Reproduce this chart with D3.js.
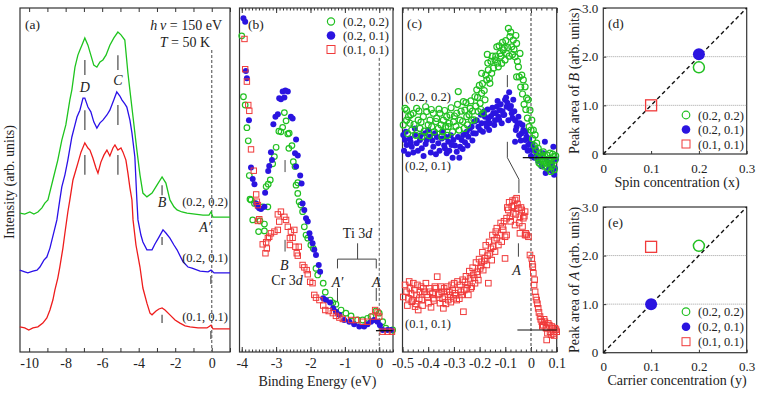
<!doctype html>
<html>
<head>
<meta charset="utf-8">
<title>Spectra panels</title>
<script src="https://d3js.org/d3.v7.min.js"></script>
<style>
  body { margin:0; background:#fff; }
</style>
</head>
<body>
<svg width="763" height="399" style="font-family:'Liberation Serif','Times New Roman',serif"></svg>
<script>
// ---------------- data ----------------
const samples = ["(0.2, 0.2)", "(0.2, 0.1)", "(0.1, 0.1)"];
const lineColors = ["#1ec41e", "#2a10e8", "#ee1c1c"];
const markColors = ["#22c022", "#2a14e0", "#f03a3a"];

// (a) valence band spectra: [binding energy (eV), intensity (arb.)]
const specA22 = [[-10.51,40.4],[-10.24,40.1],[-9.96,40.7],[-9.74,40.1],[-9.52,40.7],[-9.30,41.9],[-9.14,43.3],[-8.97,44.2],[-8.70,50.0],[-8.43,55.8],[-8.21,61.6],[-7.99,66.0],[-7.77,73.3],[-7.66,76.2],[-7.49,82.8],[-7.33,86.3],[-7.22,87.8],[-7.11,89.2],[-6.95,91.3],[-6.78,89.2],[-6.62,86.3],[-6.46,83.4],[-6.29,82.8],[-6.12,84.3],[-5.96,84.9],[-5.79,86.3],[-5.58,89.2],[-5.36,91.3],[-5.14,93.0],[-4.97,92.2],[-4.76,90.7],[-4.59,81.1],[-4.42,73.3],[-4.31,68.3],[-4.10,58.7],[-3.93,51.5],[-3.77,46.2],[-3.55,45.1],[-3.27,46.2],[-3.00,48.5],[-2.72,50.9],[-2.51,49.1],[-2.29,44.2],[-2.07,42.2],[-1.90,41.3],[-1.63,40.7],[-1.35,40.4],[-0.92,40.1],[-0.48,39.8],[-0.15,39.8],[-0.04,40.7],[0.07,39.2],[0.46,39.2],[1.00,39.2]];
const specA21 = [[-10.51,23.8],[-10.24,23.3],[-10.07,23.0],[-9.79,23.5],[-9.57,23.8],[-9.41,24.7],[-9.19,26.7],[-9.03,27.6],[-8.86,30.2],[-8.75,32.6],[-8.59,36.0],[-8.48,38.4],[-8.32,44.2],[-8.21,48.0],[-8.04,51.5],[-7.88,55.8],[-7.66,62.5],[-7.49,66.0],[-7.38,68.3],[-7.22,70.3],[-7.05,73.8],[-6.95,73.8],[-6.78,71.2],[-6.62,69.8],[-6.46,66.9],[-6.29,65.1],[-6.12,66.6],[-5.96,67.4],[-5.74,68.9],[-5.58,70.3],[-5.36,73.3],[-5.20,75.6],[-5.03,74.4],[-4.92,73.3],[-4.76,72.1],[-4.65,71.2],[-4.48,67.4],[-4.37,63.7],[-4.21,56.7],[-4.10,44.2],[-4.04,38.4],[-3.88,34.0],[-3.77,32.0],[-3.55,29.7],[-3.27,29.7],[-3.11,31.4],[-2.89,33.4],[-2.67,35.5],[-2.51,34.6],[-2.29,33.1],[-2.07,31.1],[-1.90,29.7],[-1.57,26.2],[-1.30,24.7],[-1.08,24.4],[-0.64,23.5],[-0.20,23.3],[-0.04,23.8],[0.13,23.0],[0.56,23.0],[1.00,23.0]];
const specA11 = [[-10.51,7.3],[-10.24,7.0],[-10.02,6.4],[-9.79,7.0],[-9.52,7.3],[-9.25,8.4],[-9.03,9.9],[-8.86,12.2],[-8.70,15.1],[-8.59,18.0],[-8.43,21.5],[-8.32,24.7],[-8.15,30.2],[-8.04,34.6],[-7.88,40.7],[-7.77,44.2],[-7.60,50.0],[-7.44,52.9],[-7.33,54.9],[-7.16,58.1],[-6.95,60.8],[-6.78,59.3],[-6.67,58.7],[-6.51,56.4],[-6.34,53.5],[-6.23,52.0],[-6.07,55.2],[-5.90,57.3],[-5.74,58.7],[-5.58,57.0],[-5.41,59.3],[-5.30,60.2],[-5.14,58.7],[-4.97,59.3],[-4.86,58.1],[-4.70,55.8],[-4.59,52.0],[-4.48,47.7],[-4.37,44.2],[-4.31,38.4],[-4.15,31.1],[-3.93,24.7],[-3.77,18.6],[-3.55,14.2],[-3.38,11.3],[-3.27,10.8],[-3.05,11.9],[-2.89,12.5],[-2.72,12.8],[-2.56,12.2],[-2.29,10.8],[-2.01,9.3],[-1.74,8.4],[-1.46,7.6],[-1.19,7.3],[-0.75,7.0],[-0.26,7.0],[-0.04,7.8],[0.07,6.7],[0.56,6.7],[1.00,6.7]];

// (b) Cr 3d / Ti 3d region
const specB22 = [[-4.00,91.9],[-3.95,74.2],[-3.90,71.8],[-3.85,65.2],[-3.81,61.4],[-3.78,51.3],[-3.76,44.4],[-3.73,44.2],[-3.63,43.2],[-3.68,38.4],[-3.47,38.1],[-3.34,37.2],[-3.51,35.0],[-3.34,35.2],[-3.39,42.2],[-3.24,42.2],[-3.29,48.1],[-3.23,48.8],[-3.17,50.0],[-3.10,54.7],[-3.05,56.8],[-3.00,59.5],[-2.92,64.2],[-2.86,64.0],[-2.81,65.3],[-2.76,69.6],[-2.71,67.2],[-2.66,63.4],[-2.62,63.6],[-2.63,59.2],[-2.54,60.0],[-2.50,55.3],[-2.45,53.9],[-2.37,49.2],[-2.42,48.5],[-2.37,46.1],[-2.33,43.7],[-2.28,42.7],[-2.23,40.8],[-2.18,36.4],[-2.13,34.0],[-2.08,33.1],[-1.99,31.1],[-1.92,30.1],[-1.84,24.3],[-1.79,22.4],[-1.63,20.0],[-1.57,17.4],[-1.43,15.1],[-1.35,14.3],[-1.26,13.9],[-1.11,12.2],[-0.97,11.3],[-0.82,10.5],[-0.63,9.3],[-0.48,9.3],[-0.34,9.8],[-0.24,10.3],[-0.10,11.9],[0.00,11.3],[0.10,8.8],[0.19,6.9],[0.39,6.4]];
const specB21 = [[-3.95,97.0],[-3.90,96.0],[-3.88,81.7],[-3.85,79.6],[-3.79,67.4],[-3.73,53.6],[-3.68,50.3],[-3.63,48.8],[-3.58,43.2],[-3.53,42.2],[-3.49,41.8],[-3.44,41.6],[-3.34,42.2],[-3.32,46.3],[-3.23,52.6],[-3.20,54.1],[-3.12,55.8],[-3.15,58.1],[-3.08,66.2],[-3.02,68.4],[-2.95,69.1],[-2.91,73.8],[-2.86,73.5],[-2.81,75.7],[-2.76,74.0],[-2.73,76.0],[-2.66,75.7],[-2.57,68.4],[-2.52,67.9],[-2.42,61.8],[-2.45,57.8],[-2.37,57.1],[-2.42,53.9],[-2.30,51.3],[-2.26,49.0],[-2.23,43.2],[-2.18,41.3],[-2.13,38.9],[-2.08,37.9],[-2.03,34.5],[-1.99,33.1],[-1.94,31.6],[-1.89,29.7],[-1.84,28.2],[-1.76,25.3],[-1.72,23.3],[-1.63,15.6],[-1.55,15.1],[-1.43,14.4],[-1.34,12.7],[-1.26,11.7],[-1.16,10.8],[-1.02,9.3],[-0.87,8.8],[-0.73,8.1],[-0.58,7.4],[-0.44,7.4],[-0.34,8.1],[-0.24,8.8],[-0.15,9.3],[-0.05,8.8],[0.02,7.8],[0.10,6.4],[0.24,6.4],[0.34,6.4]];
const specB11 = [[-3.92,91.0],[-3.90,82.2],[-3.85,78.6],[-3.81,71.8],[-3.78,70.1],[-3.73,58.9],[-3.65,52.7],[-3.58,45.8],[-3.56,43.7],[-3.53,42.7],[-3.49,38.6],[-3.53,38.1],[-3.39,31.3],[-3.31,28.7],[-3.27,30.1],[-3.29,31.9],[-3.24,33.1],[-3.20,33.5],[-3.15,34.5],[-3.05,35.0],[-2.95,35.5],[-2.91,37.9],[-2.95,40.0],[-2.86,40.8],[-2.76,39.3],[-2.71,38.4],[-2.66,36.4],[-2.57,35.0],[-2.47,35.5],[-2.60,33.1],[-2.52,33.2],[-2.60,31.1],[-2.44,30.6],[-2.34,30.6],[-2.40,28.7],[-2.37,28.0],[-2.23,25.3],[-2.18,24.6],[-2.11,23.8],[-2.08,22.6],[-2.01,20.4],[-1.94,20.0],[-1.89,16.6],[-1.84,15.8],[-1.74,15.1],[-1.63,13.5],[-1.57,12.2],[-1.47,11.9],[-1.35,11.3],[-1.26,10.5],[-1.16,10.0],[-1.06,9.6],[-0.82,9.3],[-0.68,9.3],[-0.48,8.8],[-0.34,8.8],[-0.19,10.3],[-0.12,12.2],[-0.05,11.5],[0.00,10.3],[0.10,5.9],[0.24,5.9],[0.37,5.9]];

// (c) near-EF region
const specC22 = [[-0.484,70.3],[-0.477,68.4],[-0.471,66.5],[-0.464,64.5],[-0.484,67.4],[-0.458,69.4],[-0.445,70.8],[-0.439,67.4],[-0.432,65.0],[-0.425,62.6],[-0.419,68.4],[-0.406,69.9],[-0.393,67.4],[-0.386,65.5],[-0.380,69.4],[-0.367,67.9],[-0.361,65.0],[-0.354,69.4],[-0.347,62.6],[-0.341,67.4],[-0.328,68.4],[-0.322,65.5],[-0.315,68.9],[-0.302,66.9],[-0.289,69.4],[-0.283,75.7],[-0.276,67.4],[-0.263,72.8],[-0.257,70.3],[-0.250,68.4],[-0.237,70.8],[-0.231,67.4],[-0.218,74.2],[-0.211,76.2],[-0.205,69.9],[-0.198,72.3],[-0.192,75.2],[-0.186,69.4],[-0.179,73.3],[-0.192,81.0],[-0.172,79.1],[-0.166,82.0],[-0.160,78.1],[-0.153,81.0],[-0.170,86.5],[-0.140,84.9],[-0.133,88.7],[-0.127,82.9],[-0.121,86.8],[-0.114,83.9],[-0.108,87.8],[-0.101,84.9],[-0.095,86.8],[-0.088,94.1],[-0.082,91.7],[-0.075,88.7],[-0.069,90.7],[-0.062,85.8],[-0.056,89.7],[-0.049,82.9],[-0.043,86.8],[-0.056,80.0],[-0.036,80.5],[-0.030,79.1],[-0.023,77.1],[-0.017,73.8],[-0.011,73.3],[-0.004,70.3],[0.003,67.4],[0.009,64.5],[0.016,63.1],[0.022,60.7],[0.028,59.2],[0.035,57.8],[0.042,56.8],[0.048,58.2],[0.061,57.3],[0.067,55.8],[0.074,57.8],[0.081,54.9],[0.087,56.8],[0.093,55.8],[0.081,53.9],[0.061,54.9],[0.048,55.3],[0.035,55.8],
  [-0.497,66.0],[-0.490,70.8],[-0.480,63.5],[-0.468,69.0],[-0.455,66.2],[-0.448,63.0],[-0.436,70.0],[-0.428,66.8],[-0.415,64.2],[-0.410,71.3],[-0.400,66.0],[-0.396,62.9],[-0.388,70.5],[-0.376,64.0],[-0.370,67.0],[-0.358,70.6],[-0.350,66.0],[-0.344,64.0],[-0.336,70.2],[-0.332,65.5],[-0.325,63.0],[-0.318,66.5],[-0.311,71.0],[-0.305,64.0],[-0.298,68.6],[-0.292,65.6],[-0.286,72.0],[-0.280,64.5],[-0.272,70.0],[-0.266,67.0],[-0.260,65.0],[-0.253,72.5],[-0.247,66.0],[-0.241,69.0],[-0.234,73.0],[-0.228,70.0],[-0.222,67.5],[-0.215,71.5],[-0.208,74.0],[-0.201,77.5],[-0.195,70.5],[-0.189,78.0],[-0.182,76.0],[-0.176,80.5],[-0.168,84.0],[-0.162,79.5],[-0.156,84.5],[-0.150,86.0],[-0.146,82.5],[-0.137,86.0],[-0.130,84.0],[-0.124,89.0],[-0.117,86.0],[-0.111,90.0],[-0.104,88.5],[-0.098,90.5],[-0.091,88.5],[-0.085,86.0],[-0.079,93.0],[-0.072,86.5],[-0.066,88.0],[-0.059,92.0],[-0.053,84.5],[-0.046,80.0],[-0.040,77.0],[-0.033,75.0],[-0.027,72.0],[-0.020,70.5],[-0.014,68.0],[-0.007,65.5],[0.000,64.5],[0.006,62.0],[0.013,60.0],[0.019,58.5],[0.025,56.5],[0.031,55.0],[0.038,54.5],[0.045,57.0],[0.051,54.0],[0.057,56.0],[0.064,53.5],[0.070,55.5],[0.077,52.5],[0.084,57.5],[0.090,53.0],[0.096,57.0]];
const specC21 = [[-0.497,63.1],[-0.490,61.6],[-0.484,60.2],[-0.471,62.1],[-0.464,59.7],[-0.451,63.1],[-0.445,60.7],[-0.432,61.6],[-0.425,59.2],[-0.412,63.6],[-0.406,61.6],[-0.393,62.6],[-0.380,59.7],[-0.374,63.6],[-0.361,60.7],[-0.347,62.1],[-0.335,59.2],[-0.328,57.8],[-0.322,61.1],[-0.309,60.2],[-0.302,61.6],[-0.289,58.2],[-0.276,59.7],[-0.270,61.6],[-0.263,63.1],[-0.250,64.0],[-0.244,62.6],[-0.231,65.5],[-0.225,63.6],[-0.211,67.4],[-0.198,64.5],[-0.192,66.5],[-0.179,68.4],[-0.172,65.5],[-0.166,67.9],[-0.160,66.5],[-0.147,69.4],[-0.140,67.4],[-0.133,71.3],[-0.127,68.4],[-0.121,70.3],[-0.114,66.5],[-0.108,68.9],[-0.101,73.3],[-0.095,71.3],[-0.088,67.4],[-0.097,74.0],[-0.082,70.8],[-0.075,69.4],[-0.069,73.3],[-0.062,67.4],[-0.056,65.5],[-0.049,68.4],[-0.062,61.1],[-0.043,66.5],[-0.036,63.6],[-0.030,64.5],[-0.023,61.6],[-0.017,62.6],[-0.011,60.2],[-0.004,60.7],[0.003,58.7],[0.009,59.2],[0.022,57.8],[0.035,56.8],[0.048,57.8],[0.061,55.8],[0.067,52.9],[0.074,53.9],[0.081,54.9],[0.087,59.7],[0.093,53.4],[0.054,61.1],
  [-0.494,58.5],[-0.487,64.0],[-0.478,57.5],[-0.468,61.0],[-0.458,58.0],[-0.452,65.0],[-0.440,58.5],[-0.429,63.0],[-0.418,57.0],[-0.410,60.5],[-0.400,64.5],[-0.390,58.0],[-0.384,61.5],[-0.370,57.5],[-0.366,62.5],[-0.356,58.5],[-0.344,64.0],[-0.338,60.0],[-0.330,62.5],[-0.318,58.5],[-0.312,63.0],[-0.305,56.5],[-0.296,60.0],[-0.284,62.5],[-0.279,56.5],[-0.266,59.0],[-0.257,61.0],[-0.247,60.0],[-0.238,65.0],[-0.228,61.5],[-0.220,67.0],[-0.215,63.5],[-0.205,65.5],[-0.195,69.0],[-0.187,64.0],[-0.182,70.0],[-0.175,66.5],[-0.169,70.5],[-0.163,64.5],[-0.156,68.5],[-0.150,71.0],[-0.143,66.0],[-0.137,69.5],[-0.130,73.0],[-0.124,67.5],[-0.118,72.0],[-0.111,70.0],[-0.104,69.0],[-0.092,72.5],[-0.085,75.5],[-0.078,71.5],[-0.072,68.0],[-0.065,70.0],[-0.059,64.5],[-0.052,66.5],[-0.046,63.0],[-0.040,61.5],[-0.033,66.0],[-0.026,59.5],[-0.020,64.0],[-0.013,58.5],[-0.007,62.0],[0.000,57.0],[0.006,60.5],[0.013,56.5],[0.019,59.0],[0.028,55.5],[0.041,54.0],[0.057,52.0],[0.071,55.0],[0.084,52.5],[0.097,56.0],[0.090,51.5]];
const specC11 = [[-0.484,17.5],[-0.477,15.6],[-0.471,18.5],[-0.464,14.6],[-0.458,20.0],[-0.451,13.2],[-0.445,16.6],[-0.439,12.2],[-0.432,17.5],[-0.425,15.1],[-0.419,18.5],[-0.406,16.6],[-0.399,14.2],[-0.393,17.5],[-0.380,15.6],[-0.374,19.0],[-0.365,21.9],[-0.361,16.6],[-0.354,14.2],[-0.347,17.5],[-0.341,12.7],[-0.335,16.1],[-0.328,17.5],[-0.322,15.1],[-0.315,16.6],[-0.309,19.5],[-0.302,15.6],[-0.296,17.1],[-0.289,15.1],[-0.283,18.0],[-0.276,19.5],[-0.270,16.6],[-0.263,11.7],[-0.257,20.4],[-0.250,18.5],[-0.244,16.6],[-0.237,21.4],[-0.231,19.0],[-0.225,22.4],[-0.218,20.0],[-0.211,23.3],[-0.205,20.9],[-0.198,24.3],[-0.192,26.2],[-0.186,23.8],[-0.179,27.2],[-0.172,25.3],[-0.166,20.0],[-0.160,28.7],[-0.153,26.7],[-0.147,30.6],[-0.140,29.2],[-0.133,33.1],[-0.127,31.1],[-0.121,34.0],[-0.114,32.1],[-0.108,35.5],[-0.101,33.5],[-0.095,34.0],[-0.133,36.0],[-0.101,27.2],[-0.095,38.9],[-0.088,41.3],[-0.082,39.3],[-0.075,42.2],[-0.069,40.3],[-0.062,44.2],[-0.056,44.7],[-0.049,41.8],[-0.043,39.3],[-0.036,41.3],[-0.030,38.9],[-0.023,40.8],[-0.062,36.9],[-0.043,34.5],[-0.023,34.0],[-0.017,34.0],[-0.004,28.2],[0.003,27.2],[0.007,24.8],[0.009,22.9],[0.012,19.5],[0.016,17.5],[0.022,15.1],[0.028,12.7],[0.035,10.3],[0.042,8.8],[0.048,7.8],[0.054,8.8],[0.061,6.9],[0.067,8.3],[0.074,5.9],[0.081,7.4],[0.087,5.4],[0.093,6.9],[0.061,3.5],[0.100,5.9],
  [-0.497,16.0],[-0.490,19.5],[-0.481,13.5],[-0.474,20.5],[-0.467,17.0],[-0.461,15.0],[-0.454,18.0],[-0.448,14.0],[-0.442,19.5],[-0.435,15.5],[-0.428,19.0],[-0.422,13.5],[-0.415,17.5],[-0.409,20.0],[-0.402,16.0],[-0.396,18.5],[-0.389,13.0],[-0.383,17.0],[-0.377,15.0],[-0.370,18.5],[-0.357,17.0],[-0.351,19.0],[-0.344,15.5],[-0.338,18.5],[-0.331,14.0],[-0.325,19.0],[-0.318,17.5],[-0.312,14.5],[-0.305,18.0],[-0.299,20.0],[-0.292,16.5],[-0.286,20.5],[-0.279,15.5],[-0.273,17.5],[-0.266,21.0],[-0.260,18.0],[-0.253,22.0],[-0.247,19.5],[-0.240,23.5],[-0.234,18.5],[-0.227,24.5],[-0.221,21.5],[-0.214,26.0],[-0.208,22.5],[-0.202,27.0],[-0.195,25.0],[-0.189,29.0],[-0.182,26.5],[-0.176,31.0],[-0.169,28.0],[-0.163,32.0],[-0.156,30.0],[-0.150,34.0],[-0.143,32.5],[-0.137,35.0],[-0.118,37.5],[-0.111,36.5],[-0.105,38.0],[-0.092,42.0],[-0.085,43.5],[-0.079,38.0],[-0.072,44.0],[-0.066,42.5],[-0.059,40.0],[-0.053,43.0],[-0.046,37.5],[-0.039,42.0],[-0.033,36.5],[-0.026,39.5],[-0.020,34.5],[-0.010,33.5],[0.005,25.5],[0.014,21.0],[0.019,16.0],[0.025,14.0],[0.031,11.5],[0.038,9.5],[0.044,7.5],[0.051,9.5],[0.058,7.0],[0.064,5.5],[0.071,7.8],[0.078,5.0],[0.084,7.0],[0.090,4.8],[0.097,6.5]];

// (d), (e) peak areas
const spinConc = [0.2, 0.2, 0.1];
const carrierConc = [0.2, 0.1, 0.1];
const areaB = [1.78, 2.05, 1.0];
const areaA = [2.2, 1.0, 2.18];

// tick labels
const ticksA = [-10, -8, -6, -4, -2, 0];
const ticksB = [-4, -3, -2, -1, 0];
const ticksC = [-0.5, -0.4, -0.3, -0.2, -0.1, 0, 0.1];
const ticksDx = [0, 0.1, 0.2, 0.3];
const ticksDy = [0, 1, 2, 3];

// ---------------- drawing ----------------
const svg = d3.select("svg");
const ink = "#333";
const serif = "'Liberation Serif','Times New Roman',serif";

const xA = d3.scaleLinear().domain([-10.5, 1.0]).range([20, 230]);
const xB = d3.scaleLinear().domain([-4.065, 0.4]).range([239.5, 393]);
const xC = d3.scaleLinear().domain([-0.5, 0.1]).range([402.5, 556.7]);
const yI = d3.scaleLinear().domain([0, 100]).range([352, 8]);
const xD = d3.scaleLinear().domain([0, 0.3]).range([603.3, 746.7]);
const yD = d3.scaleLinear().domain([0, 3]).range([154, 8]);
const yE = d3.scaleLinear().domain([0, 3]).range([352.7, 207]);

function frame(xs, ys) {
  svg.append("rect")
    .attr("x", xs.range()[0]).attr("y", ys.range()[1])
    .attr("width", xs.range()[1] - xs.range()[0])
    .attr("height", ys.range()[0] - ys.range()[1])
    .attr("fill", "none").attr("stroke", ink).attr("stroke-width", 1.2);
}

function styleAxis(g, size) {
  g.select(".domain").remove();
  g.attr("color", ink).attr("font-family", serif).attr("font-size", size);
  g.selectAll("text").attr("fill", "#222");
}

// inward ticks on bottom (with labels) and top
function xAxes(xs, ys, major, minor, fmt, minorLen, majorLen, pad, size) {
  const yb = ys.range()[0], yt = ys.range()[1];
  if (minor) {
    svg.append("g").attr("transform", "translate(0," + yb + ")")
      .call(d3.axisBottom(xs).tickValues(minor).tickSize(-minorLen).tickFormat(""))
      .call(g => styleAxis(g, size));
    svg.append("g").attr("transform", "translate(0," + yt + ")")
      .call(d3.axisTop(xs).tickValues(minor).tickSize(-minorLen).tickFormat(""))
      .call(g => styleAxis(g, size));
  }
  svg.append("g").attr("transform", "translate(0," + yb + ")")
    .call(d3.axisBottom(xs).tickValues(major).tickSize(-majorLen).tickPadding(pad).tickFormat(fmt))
    .call(g => styleAxis(g, size));
  svg.append("g").attr("transform", "translate(0," + yt + ")")
    .call(d3.axisTop(xs).tickValues(major).tickSize(-majorLen).tickFormat(""))
    .call(g => styleAxis(g, size));
}

function text(x, y, str, opts) {
  opts = opts || {};
  const t = svg.append("text").attr("x", x).attr("y", y)
    .attr("font-family", serif).attr("fill", "#222")
    .attr("font-size", opts.size || 13.5)
    .attr("text-anchor", opts.anchor || "start");
  if (opts.italic) t.attr("font-style", "italic");
  t.text(str);
  return t;
}

function vline(xs, ys, e, i0, i1, color, width, dash) {
  svg.append("line")
    .attr("x1", xs(e)).attr("x2", xs(e)).attr("y1", ys(i0)).attr("y2", ys(i1))
    .attr("stroke", color).attr("stroke-width", width || 1)
    .attr("stroke-dasharray", dash || null);
}

function hline(xs, ys, e0, e1, i, color, width, dash) {
  svg.append("line")
    .attr("x1", xs(e0)).attr("x2", xs(e1)).attr("y1", ys(i)).attr("y2", ys(i))
    .attr("stroke", color).attr("stroke-width", width || 1)
    .attr("stroke-dasharray", dash || null);
}

const plain = d => String(d);
const oneDec = d => d === 0 ? "0" : d.toFixed(1);

function markers(xs, ys, pts, kind, color, size) {
  const g = svg.append("g");
  if (kind === 0) {
    g.selectAll("circle").data(pts).join("circle")
      .attr("cx", d => xs(d[0])).attr("cy", d => ys(d[1])).attr("r", size)
      .attr("fill", "none").attr("stroke", color).attr("stroke-width", 1.2);
  } else if (kind === 1) {
    g.selectAll("circle").data(pts).join("circle")
      .attr("cx", d => xs(d[0])).attr("cy", d => ys(d[1])).attr("r", size + 0.4)
      .attr("fill", color);
  } else {
    g.selectAll("rect").data(pts).join("rect")
      .attr("x", d => xs(d[0]) - size).attr("y", d => ys(d[1]) - size)
      .attr("width", size * 2).attr("height", size * 2)
      .attr("fill", "none").attr("stroke", color).attr("stroke-width", 1);
  }
}

// ======== panel (a) ========
frame(xA, yI);
xAxes(xA, yI, d3.range(-10, 1.01, 1), null,
  d => ticksA.includes(d) ? plain(d) : "", 0, 4, 6.5, 14);
vline(xA, yI, 0, 87.8, 0, "#666", 1.2, "3,2");
const lineA = d3.line().x(d => xA(d[0])).y(d => yI(d[1]));
[specA22, specA21, specA11].forEach((s, k) => {
  svg.append("path").attr("d", lineA(s)).attr("fill", "none")
    .attr("stroke", lineColors[k]).attr("stroke-width", 1.3);
});
// peak markers D, C, B, A
const peakMarks = [
  [-6.95, 84.9, 80.5], [-5.14, 86.3, 82.0],
  [-6.95, 70.3, 64.5], [-5.14, 71.8, 66.0],
  [-6.95, 57.3, 51.5], [-5.14, 57.3, 51.5],
  [-2.72, 48.5, 45.6], [-2.72, 33.4, 31.1], [-2.72, 10.8, 8.4],
  [-0.05, 22.1, 19.8], [-0.05, 6.1, 3.8]
];
peakMarks.forEach(m => vline(xA, yI, m[0], m[1], m[2], "#777", 1.6));
text(25, 29, "(a)", {size: 13.5});
const hv = text(222, 30, "", {size: 14, anchor: "end"});
hv.append("tspan").attr("font-style", "italic").text("h\u2009\u03bd");
hv.append("tspan").text(" = 150 eV");
const tt = text(210, 47, "", {size: 14, anchor: "end"});
tt.append("tspan").attr("font-style", "italic").text("T");
tt.append("tspan").text(" = 50 K");
text(xA(-6.95), yI(75.5), "D", {size: 14, italic: true, anchor: "middle"});
text(xA(-5.14), yI(77.5), "C", {size: 14, italic: true, anchor: "middle"});
text(xA(-2.72), yI(42.1), "B", {size: 14, italic: true, anchor: "middle"});
text(xA(-0.37), yI(34.9), "A\u2032", {size: 14, italic: true, anchor: "middle"});
text(228, yI(42.4), samples[0], {size: 12.5, anchor: "end"});
text(228, yI(26.2), samples[1], {size: 12.5, anchor: "end"});
text(228, yI(9.0), samples[2], {size: 12.5, anchor: "end"});
svg.append("text").attr("transform", "translate(13.5,182) rotate(-90)")
  .attr("font-family", serif).attr("fill", "#222")
  .attr("text-anchor", "middle").attr("font-size", 14).text("Intensity (arb. units)");

// ======== panel (b) ========
frame(xB, yI);
xAxes(xB, yI, ticksB, d3.range(-40, 5).map(i => i / 10), plain, 2.5, 5, 6.5, 14);
vline(xB, yI, 0, 85.5, 0, "#555", 1, "3,2");
markers(xB, yI, specB22, 0, markColors[0], 2.8);
markers(xB, yI, specB21, 1, markColors[1], 2.6);
markers(xB, yI, specB11, 2, markColors[2], 2.7);
hline(xB, yI, -0.096, 0.39, 6.2, "#111", 1.3);
vline(xB, yI, -2.74, 55.8, 52.3, "#444", 1);
vline(xB, yI, -2.74, 32.6, 29.2, "#444", 1);
text(xB(-2.76), yI(23.8), "B", {size: 14, italic: true, anchor: "middle"});
const cr = text(xB(-2.68), yI(19.4), "Cr 3", {size: 14, anchor: "middle"});
cr.append("tspan").attr("font-style", "italic").text("d");
// Ti 3d bracket
vline(xB, yI, -0.63, 31.6, 27.0, "#444", 1);
hline(xB, yI, -1.215, -0.087, 27.0, "#444", 1);
vline(xB, yI, -1.215, 27.0, 24.3, "#444", 1);
vline(xB, yI, -0.087, 27.0, 24.3, "#444", 1);
const ti = text(xB(-0.63), yI(33.0), "Ti 3", {size: 14, anchor: "middle"});
ti.append("tspan").attr("font-style", "italic").text("d");
text(xB(-1.215), yI(18.9), "A\u2032", {size: 14, italic: true, anchor: "middle"});
text(xB(-0.087), yI(18.9), "A", {size: 14, italic: true, anchor: "middle"});
vline(xB, yI, -1.215, 18.6, 14.8, "#444", 1);
vline(xB, yI, -0.087, 18.6, 14.8, "#444", 1);
text(248, 29, "(b)", {size: 13.5});
// legend
const legB = [21.5, 35.5, 49.5];
legB.forEach((yy, k) => {
  if (k === 0) svg.append("circle").attr("cx", 331).attr("cy", yy).attr("r", 3.6)
    .attr("fill", "none").attr("stroke", markColors[0]).attr("stroke-width", 1.2);
  if (k === 1) svg.append("circle").attr("cx", 331).attr("cy", yy).attr("r", 4.3)
    .attr("fill", markColors[1]);
  if (k === 2) svg.append("rect").attr("x", 327).attr("y", yy - 4).attr("width", 8).attr("height", 8)
    .attr("fill", "none").attr("stroke", markColors[2]).attr("stroke-width", 1);
  text(343, yy + 4.5, samples[k], {size: 12.5});
});
text(xB(-1.8), 386, "Binding Energy (eV)", {size: 14, anchor: "middle"});

// ======== panel (c) ========
frame(xC, yI);
xAxes(xC, yI, ticksC, d3.range(-25, 6).map(i => i * 0.02), oneDec, 2.5, 5, 6.5, 14);
vline(xC, yI, 0, 100, 0, "#666", 1.3, "3,2");
markers(xC, yI, specC21, 1, markColors[1], 2.6);
markers(xC, yI, specC22, 0, markColors[0], 3.0);
markers(xC, yI, specC11, 2, markColors[2], 2.8);
hline(xC, yI, -0.032, 0.1, 56.5, "#111", 1.2);
hline(xC, yI, -0.053, 0.1, 6.4, "#111", 1.2);
vline(xC, yI, -0.092, 80.5, 77.0, "#444", 1);
const connector = [[-0.092, 61.1], [-0.092, 56.5], [-0.047, 50.2], [-0.047, 46.2]];
svg.append("path").attr("d", d3.line().x(d => xC(d[0])).y(d => yI(d[1]))(connector))
  .attr("fill", "none").attr("stroke", "#444").attr("stroke-width", 1);
vline(xC, yI, -0.049, 31.6, 27.7, "#444", 1);
text(xC(-0.056), yI(22.5), "A", {size: 14, italic: true, anchor: "middle"});
text(407, 28, "(c)", {size: 13.5});
text(405, yI(72.9), samples[0], {size: 12.5});
text(405, yI(53.0), samples[1], {size: 12.5});
text(405, yI(7.1), samples[2], {size: 12.5});

// ======== panels (d), (e) ========
function sidePanel(ys, xVals, yVals, label, xTitle, yLetter, titleY, legY) {
  frame(xD, ys);
  [1, 2].forEach(v => hline(xD, ys, 0, 0.3, v, "#888", 0.8, "1,1"));
  svg.append("g").attr("transform", "translate(0," + ys.range()[0] + ")")
    .call(d3.axisBottom(xD).tickValues(ticksDx).tickSize(-3).tickPadding(9.5).tickFormat(plain))
    .call(g => styleAxis(g, 13));
  svg.append("g").attr("transform", "translate(" + xD.range()[0] + ",0)")
    .call(d3.axisLeft(ys).tickValues(ticksDy).tickSize(-3).tickPadding(5)
      .tickFormat(d => d === 0 ? "0" : d.toFixed(1)))
    .call(g => styleAxis(g, 13));
  svg.append("line").attr("x1", xD(0)).attr("y1", ys(0)).attr("x2", xD(0.3)).attr("y2", ys(3))
    .attr("stroke", "#111").attr("stroke-width", 1.4).attr("stroke-dasharray", "4,3");
  svg.append("circle").attr("cx", xD(xVals[0])).attr("cy", ys(yVals[0])).attr("r", 5.5)
    .attr("fill", "none").attr("stroke", markColors[0]).attr("stroke-width", 1.5);
  svg.append("circle").attr("cx", xD(xVals[1])).attr("cy", ys(yVals[1])).attr("r", 6)
    .attr("fill", markColors[1]);
  svg.append("rect").attr("x", xD(xVals[2]) - 5.5).attr("y", ys(yVals[2]) - 5.5)
    .attr("width", 11).attr("height", 11)
    .attr("fill", "none").attr("stroke", markColors[2]).attr("stroke-width", 1.3);
  text(608, ys.range()[1] + 20, label, {size: 13.5});
  legY.forEach((yy, k) => {
    if (k === 0) svg.append("circle").attr("cx", 686).attr("cy", yy).attr("r", 3.8)
      .attr("fill", "none").attr("stroke", markColors[0]).attr("stroke-width", 1.2);
    if (k === 1) svg.append("circle").attr("cx", 686).attr("cy", yy).attr("r", 4.3)
      .attr("fill", markColors[1]);
    if (k === 2) svg.append("rect").attr("x", 682).attr("y", yy - 4).attr("width", 8).attr("height", 8)
      .attr("fill", "none").attr("stroke", markColors[2]).attr("stroke-width", 1);
    text(698, yy + 4.5, samples[k], {size: 12.5});
  });
  text(677, titleY, xTitle, {size: 14, anchor: "middle"});
  const yt = svg.append("text")
    .attr("transform", "translate(579," + (ys.range()[0] + ys.range()[1]) / 2 + ") rotate(-90)")
    .attr("font-family", serif).attr("fill", "#222")
    .attr("text-anchor", "middle").attr("font-size", 14);
  yt.append("tspan").text("Peak area of ");
  yt.append("tspan").attr("font-style", "italic").text(yLetter);
  yt.append("tspan").text(" (arb. units)");
}

sidePanel(yD, spinConc, areaB, "(d)", "Spin concentration (x)", "B", 187, [115, 129.5, 144]);
sidePanel(yE, carrierConc, areaA, "(e)", "Carrier concentration (y)", "A", 385, [311.7, 326.7, 341.7]);
</script>
</body>
</html>
